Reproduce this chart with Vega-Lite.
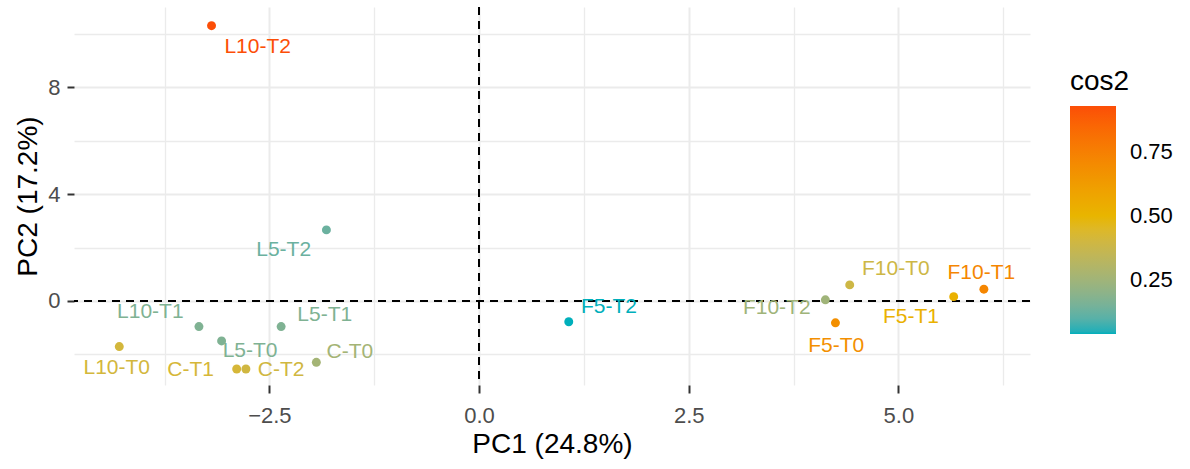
{
  "$schema": "https://vega.github.io/schema/vega-lite/v6.json",
  "width": 956,
  "height": 378,
  "autosize": {"type": "none"},
  "padding": {"left": 74, "top": 7, "right": 160, "bottom": 84},
  "background": "white",
  "config": {
    "font": "Liberation Sans",
    "view": {"stroke": null}
  },
  "data": {
    "values": [
      {"name": "L10-T2", "PC1": -3.19, "PC2": 10.31, "cos2": 0.928, "lx": -2.64, "ly": 9.52},
      {"name": "L5-T2", "PC1": -1.82, "PC2": 2.66, "cos2": 0.13, "lx": -2.33, "ly": 1.89},
      {"name": "L10-T1", "PC1": -3.34, "PC2": -0.96, "cos2": 0.17, "lx": -3.92, "ly": -0.40},
      {"name": "L5-T0", "PC1": -3.07, "PC2": -1.50, "cos2": 0.17, "lx": -2.73, "ly": -1.89},
      {"name": "L5-T1", "PC1": -2.36, "PC2": -0.96, "cos2": 0.17, "lx": -1.84, "ly": -0.52},
      {"name": "L10-T0", "PC1": -4.29, "PC2": -1.71, "cos2": 0.41, "lx": -4.32, "ly": -2.52},
      {"name": "C-T1", "PC1": -2.89, "PC2": -2.55, "cos2": 0.42, "lx": -3.44, "ly": -2.58},
      {"name": "C-T2", "PC1": -2.78, "PC2": -2.55, "cos2": 0.40, "lx": -2.36, "ly": -2.58},
      {"name": "C-T0", "PC1": -1.94, "PC2": -2.30, "cos2": 0.26, "lx": -1.54, "ly": -1.90},
      {"name": "F5-T2", "PC1": 1.07, "PC2": -0.78, "cos2": 0.04, "lx": 1.55, "ly": -0.21},
      {"name": "F10-T2", "PC1": 4.13, "PC2": 0.04, "cos2": 0.25, "lx": 3.55, "ly": -0.27},
      {"name": "F10-T0", "PC1": 4.42, "PC2": 0.60, "cos2": 0.39, "lx": 4.97, "ly": 1.19},
      {"name": "F5-T0", "PC1": 4.25, "PC2": -0.82, "cos2": 0.68, "lx": 4.26, "ly": -1.69},
      {"name": "F5-T1", "PC1": 5.66, "PC2": 0.16, "cos2": 0.52, "lx": 5.15, "ly": -0.59},
      {"name": "F10-T1", "PC1": 6.02, "PC2": 0.44, "cos2": 0.72, "lx": 5.99, "ly": 1.06}
    ]
  },
  "layer": [
    {
      "mark": {"type": "rule", "color": "black", "strokeWidth": 1.8, "strokeDash": [8, 6]},
      "encoding": {
        "x": {
          "datum": 0,
          "type": "quantitative",
          "scale": {"domain": [-4.83, 6.57], "nice": false, "zero": false},
          "axis": {
            "title": "PC1 (24.8%)",
            "values": [-3.75, -2.5, -1.25, 0, 1.25, 2.5, 3.75, 5, 6.25],
            "labelExpr": "abs(datum.value / 2.5 - round(datum.value / 2.5)) < 0.01 ? format(datum.value, '.1f') : ''",
            "domain": false,
            "grid": true,
            "gridColor": "#EBEBEB",
            "gridWidth": {"condition": {"test": "abs(datum.value / 2.5 - round(datum.value / 2.5)) < 0.01", "value": 2}, "value": 1.3},
            "tickOpacity": {"condition": {"test": "abs(datum.value / 2.5 - round(datum.value / 2.5)) < 0.01", "value": 1}, "value": 0},
            "tickColor": "#333333",
            "tickWidth": 2,
            "tickSize": 8,
            "labelPadding": 12,
            "labelFontSize": 22,
            "labelColor": "#4D4D4D",
            "labelFlush": false,
            "labelOverlap": false,
            "titleFontSize": 28,
            "titleFontWeight": "normal",
            "titleColor": "black",
            "titlePadding": 4
          }
        }
      }
    },
    {
      "mark": {"type": "rule", "color": "black", "strokeWidth": 1.8, "strokeDash": [8, 6]},
      "encoding": {
        "y": {
          "datum": 0,
          "type": "quantitative",
          "scale": {"domain": [-3.15, 11.01], "nice": false, "zero": false},
          "axis": {
            "title": "PC2 (17.2%)",
            "values": [-2, 0, 2, 4, 6, 8, 10],
            "labelExpr": "datum.value % 4 === 0 ? format(datum.value, 'd') : ''",
            "domain": false,
            "grid": true,
            "gridColor": "#EBEBEB",
            "gridWidth": {"condition": {"test": "datum.value % 4 === 0", "value": 2}, "value": 1.3},
            "tickOpacity": {"condition": {"test": "datum.value % 4 === 0", "value": 1}, "value": 0},
            "tickColor": "#333333",
            "tickWidth": 2,
            "tickSize": 7,
            "labelPadding": 7,
            "labelFontSize": 22,
            "labelColor": "#4D4D4D",
            "labelFlush": false,
            "labelOverlap": false,
            "titleFontSize": 28,
            "titleFontWeight": "normal",
            "titleColor": "black",
            "titlePadding": 5
          }
        }
      }
    },
    {
      "mark": {"type": "circle", "size": 80, "opacity": 1},
      "encoding": {
        "x": {"field": "PC1", "type": "quantitative"},
        "y": {"field": "PC2", "type": "quantitative"},
        "color": {
          "field": "cos2",
          "type": "quantitative",
          "scale": {
            "type": "linear",
            "domain": [0.04, 0.484, 0.928],
            "range": ["#00AFBB", "#E7B800", "#FC4E07"],
            "interpolate": "lab"
          },
          "legend": {
            "title": "cos2",
            "orient": "none",
            "legendX": 996,
            "legendY": 61,
            "direction": "vertical",
            "values": [0.25, 0.5, 0.75],
            "format": ".2f",
            "gradientLength": 228,
            "gradientThickness": 46,
            "gradientStrokeWidth": 0,
            "labelFontSize": 22,
            "labelColor": "black",
            "labelOffset": 14,
            "titleFontSize": 28,
            "titleFontWeight": "normal",
            "titleColor": "black",
            "titlePadding": 10
          }
        }
      }
    },
    {
      "mark": {"type": "text", "fontSize": 21, "align": "center", "baseline": "middle"},
      "encoding": {
        "x": {"field": "lx", "type": "quantitative"},
        "y": {"field": "ly", "type": "quantitative"},
        "text": {"field": "name"},
        "color": {"field": "cos2", "type": "quantitative"}
      }
    }
  ]
}
